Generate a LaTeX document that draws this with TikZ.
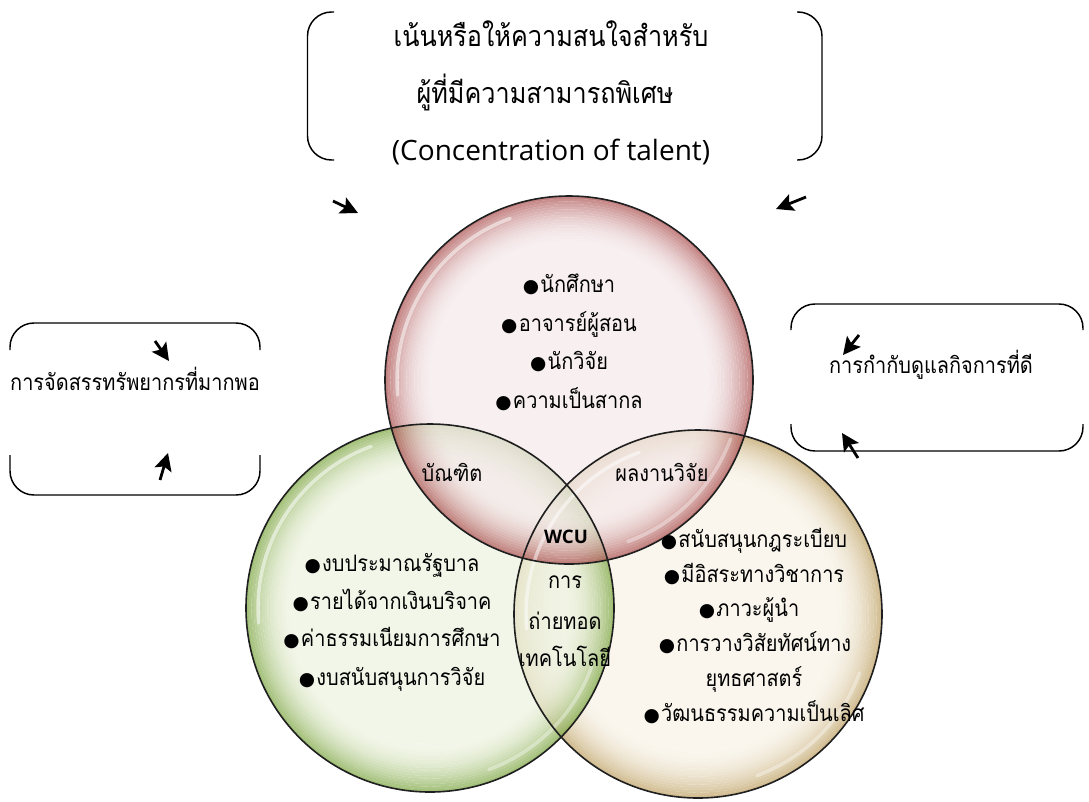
\documentclass[tikz,border=0pt]{standalone}
\usepackage{fontspec}
\setmainfont{Loma}[Script=Thai, FakeStretch=0.88]
\newfontfamily\symf{DejaVu Sans}
\newfontfamily\latf{Open Sans}
\usetikzlibrary{arrows.meta}
\definecolor{rI}{HTML}{F5EAEB}
\definecolor{rO}{HTML}{B05858}
\definecolor{gI}{HTML}{EEF3E1}
\definecolor{gO}{HTML}{82AA4A}
\definecolor{tI}{HTML}{F8F3E7}
\definecolor{tO}{HTML}{C2A66C}
\newcommand\bl{{\symf\fontsize{14}{14}\selectfont ●}\hspace{1pt}}
\newcommand\glassball[3]{% #1 centre node, #2 inner colour, #3 rim colour
  \begin{scope}[transparency group, opacity=0.74]
    \fill[#2] (#1.center) circle[radius=102pt];
    \foreach \k in {0,...,17}{
      \pgfmathsetmacro\pp{100*(1-\k/18)^2}
      \pgfmathsetmacro\rr{138-(\k+0.5)*2}
      \draw[line width=2.15pt, draw=#3!\pp!#2] (#1.center) circle[radius=\rr pt];
    }
  \end{scope}}
\tikzset{
  ball/.style={circle, minimum size=276pt, inner sep=0pt},
  rim/.style={draw=black!88, line width=1.2pt},
  gloss/.style={draw=white, line width=2.6pt, opacity=0.5, line cap=round},
  bracket/.style={draw=black, line width=1.1pt, rounded corners=18pt},
  arr/.style={draw=black, line width=2.1pt, -{Stealth[length=13pt,width=13pt,inset=2.5pt]}},
  txt/.style={inner sep=0pt, anchor=base, font=\fontsize{17}{20}\selectfont},
  big/.style={inner sep=0pt, anchor=base, font=\fontsize{21.5}{26}\selectfont},
}
\begin{document}
\begin{tikzpicture}[x=0.75pt,y=-0.75pt]
\useasboundingbox (0,0) rectangle (1089,801);
% circles
\node[ball] (T) at (698,614) {};
\node[ball] (G) at (430,608) {};
\node[ball] (R) at (569,380) {};
\glassball{T}{tI}{tO}
\glassball{G}{gI}{gO}
\glassball{R}{rI}{rO}
\foreach \c in {R,G,T}{
  \draw[gloss] ([shift={(110:129pt)}]\c.center) arc[start angle=110, end angle=185, radius=129pt];
  \draw[gloss, opacity=0.35] ([shift={(-70:129pt)}]\c.center) arc[start angle=-70, end angle=-20, radius=129pt];
}
\draw[rim] (T.center) circle[radius=138pt];
\draw[rim] (G.center) circle[radius=138pt];
\draw[rim] (R.center) circle[radius=138pt];
% top box
\draw[bracket] (334,12) -- (307.5,12) -- (307.5,160) -- (334,160);
\draw[bracket] (797,12) -- (822,12) -- (822,160) -- (797,160);
\node[big] (t1) at (551,46) {เน้นหรือให้ความสนใจสำหรับ};
\node[big] (t2) at (545,103) {ผู้ที่มีความสามารถพิเศษ};
\node[big, font=\latf\fontsize{21}{26}\selectfont] (t3) at (551,160) {(Concentration of talent)};
% left box
\draw[bracket] (10,350) -- (10,323) -- (260,323) -- (260,350);
\draw[bracket] (10,455) -- (10,495) -- (260,495) -- (260,455);
\node[txt] (lb) at (135,390) {การจัดสรรทรัพยากรที่มากพอ};
% right box
\draw[bracket] (791,330) -- (791,304) -- (1083,304) -- (1083,330);
\draw[bracket] (791,424) -- (791,451) -- (1083,451) -- (1083,424);
\node[txt] (rb) at (931,373) {การกำกับดูแลกิจการที่ดี};
% arrows
\coordinate (a1s) at (333,201); \coordinate (a1e) at (358,213);
\coordinate (a2s) at (806,197); \coordinate (a2e) at (776,209);
\coordinate (a3s) at (155,341); \coordinate (a3e) at (169,361);
\coordinate (a4s) at (160,480); \coordinate (a4e) at (168,453);
\coordinate (a5s) at (859,335); \coordinate (a5e) at (843,355);
\coordinate (a6s) at (858,458); \coordinate (a6e) at (842,433);
\foreach \s/\e in {a1s/a1e,a2s/a2e,a3s/a3e,a4s/a4e,a5s/a5e,a6s/a6e}{\draw[arr] (\s) -- (\e);}
% red circle text
\node[txt] (r1) at (569,292) {\bl นักศึกษา};
\node[txt] (r2) at (569,331) {\bl อาจารย์ผู้สอน};
\node[txt] (r3) at (569,369) {\bl นักวิจัย};
\node[txt] (r4) at (569,408) {\bl ความเป็นสากล};
% overlaps
\node[txt] (o1) at (452,481) {บัณฑิต};
\node[txt] (o2) at (662,481) {ผลงานวิจัย};
\node[txt, font=\latf\bfseries\fontsize{14}{16}\selectfont] (o3) at (566,543) {WCU};
\node[txt] (o4) at (565,588) {การ};
\node[txt] (o5) at (565,629) {ถ่ายทอด};
\node[txt] (o6) at (565,666) {เทคโนโลยี};
% green text
\node[txt] (g1) at (392,571) {\bl งบประมาณรัฐบาล};
\node[txt] (g2) at (392,609) {\bl รายได้จากเงินบริจาค};
\node[txt] (g3) at (392,646) {\bl ค่าธรรมเนียมการศึกษา};
\node[txt] (g4) at (392,685) {\bl งบสนับสนุนการวิจัย};
% tan text
\node[txt] (n1) at (754,547) {\bl สนับสนุนกฎระเบียบ};
\node[txt] (n2) at (754,582) {\bl มีอิสระทางวิชาการ};
\node[txt] (n3) at (749,616) {\bl ภาวะผู้นำ};
\node[txt] (n4) at (755,651) {\bl การวางวิสัยทัศน์ทาง};
\node[txt] (n5) at (754,686) {ยุทธศาสตร์};
\node[txt] (n6) at (754,721) {\bl วัฒนธรรมความเป็นเลิศ};
\end{tikzpicture}
\end{document}
